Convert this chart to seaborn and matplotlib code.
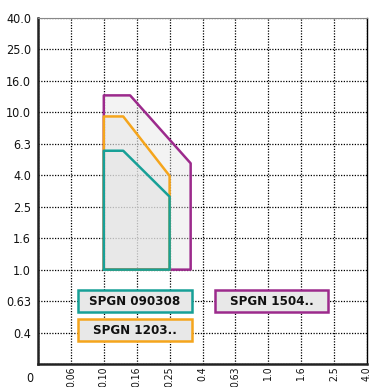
import matplotlib
matplotlib.use("Agg")
import matplotlib.pyplot as plt
import seaborn as sns
import pandas as pd
from matplotlib.patches import Rectangle
from matplotlib import font_manager

# ---- data -------------------------------------------------------------
x_labels = ["0", "0.06", "0.10", "0.16", "0.25", "0.4", "0.63", "1.0", "1.6", "2.5", "4.0"]
y_labels = ["0", "0.4", "0.63", "1.0", "1.6", "2.5", "4.0", "6.3", "10.0", "16.0", "25.0", "40.0"]

series = ["SPGN 1504..", "SPGN 1203..", "SPGN 090308"]
colors = ["#9c2a8c", "#f5a51c", "#17a097"]

# polygon vertices, as positions on the categorical scales
x_1504 = [2.0, 2.0, 2.80, 4.64, 4.64, 2.0]
y_1504 = [3.0, 8.54, 8.54, 6.38, 3.0, 3.0]
x_1203 = [2.0, 2.0, 2.59, 4.0, 4.0, 2.0]
y_1203 = [3.0, 7.87, 7.87, 5.98, 3.0, 3.0]
x_0903 = [2.0, 2.0, 2.59, 4.0, 4.0, 2.0]
y_0903 = [3.0, 6.78, 6.78, 5.32, 3.0, 3.0]

xs = [x_1504, x_1203, x_0903]
ys = [y_1504, y_1203, y_0903]

# ---- style ------------------------------------------------------------
sns.set_theme(style="white")
avail = {f.name for f in font_manager.fontManager.ttflist}
fam = ["Liberation Sans Narrow", "DejaVu Sans"] if "Liberation Sans Narrow" in avail else ["DejaVu Sans"]
plt.rcParams["font.family"] = fam
plt.rcParams["font.stretch"] = "condensed"

fig = plt.figure(figsize=(3.77, 3.87), dpi=100)
ax = fig.add_axes([38 / 377, 23 / 387, 329 / 377, 346 / 387])

for s, c, xv, yv in zip(series, colors, xs, ys):
    ax.fill(xv, yv, color="#e4e4e4", alpha=0.41, lw=0, zorder=2)
    df = pd.DataFrame({"x": xv, "y": yv})
    sns.lineplot(data=df, x="x", y="y", sort=False, estimator=None,
                 color=c, linewidth=1.8, ax=ax, zorder=3)

ax.set_xlim(0, len(x_labels) - 1)
ax.set_ylim(0, len(y_labels) - 1)
ax.set_xticks(range(len(x_labels)))
ax.set_xticklabels([""] + x_labels[1:], rotation=90, fontsize=7.5, color="#111111",
                   fontstretch="condensed")
ax.set_yticks(range(len(y_labels)))
ax.set_yticklabels([""] + y_labels[1:], fontsize=9, color="#111111", fontstretch="condensed")
ax.tick_params(axis="y", length=0, pad=5)
ax.tick_params(axis="x", length=0, pad=1.5)
ax.set_xlabel("")
ax.set_ylabel("")
ax.grid(True, linestyle=(0, (1, 1.2)), color="black", linewidth=0.9)
ax.set_axisbelow(True)

for side in ["left", "bottom"]:
    ax.spines[side].set_color("#222222")
    ax.spines[side].set_linewidth(1.8)
ax.spines["top"].set_color("#888888")
ax.spines["top"].set_linewidth(0.8)
ax.spines["right"].set_color("black")
ax.spines["right"].set_linewidth(1.0)

fig.text(30 / 377, 1 - 378 / 387, "0", ha="center", va="center", fontsize=9,
         color="#111111", fontstretch="condensed")

# legend boxes
boxes = [  # (series index, x0, y0, w, h) in data units
    (2, 1.22, 1.65, 3.46, 0.70),
    (1, 1.22, 0.73, 3.46, 0.70),
    (0, 5.38, 1.65, 3.44, 0.70),
]
for i, x0, y0, w, h in boxes:
    ax.add_patch(Rectangle((x0, y0), w, h, facecolor="#e8e8e8", edgecolor=colors[i],
                           linewidth=1.8, zorder=4))
    ax.text(x0 + w / 2, y0 + h / 2, series[i], ha="center", va="center",
            fontsize=9.5, fontweight="bold", color="#111111", zorder=5,
            fontstretch="condensed")

fig.savefig("out.png", dpi=100)
